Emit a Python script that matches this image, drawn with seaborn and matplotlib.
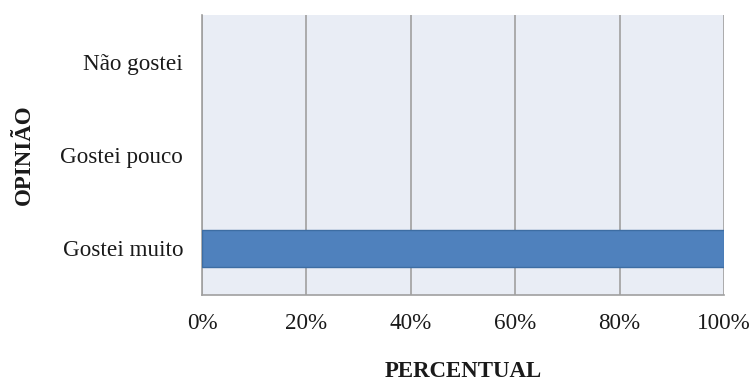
import matplotlib
matplotlib.use("Agg")
import matplotlib.pyplot as plt
import matplotlib.ticker as mticker
import seaborn as sns
import pandas as pd

# Survey answers, top to bottom, and their share of responses (%)
opinioes = ["Não gostei", "Gostei pouco", "Gostei muito"]
percentuais = [0, 0, 100]
xticks = [0, 20, 40, 60, 80, 100]

df = pd.DataFrame({"opiniao": opinioes, "percentual": percentuais})

sns.set_theme(style="white")
plt.rcParams["font.family"] = ["Liberation Serif", "DejaVu Serif"]

fig = plt.figure(figsize=(7.55, 3.83), dpi=100)
ax = fig.add_axes([0.2675, 0.2298, 0.959 - 0.2675, 0.961 - 0.2298])
ax.set_facecolor("#E9EDF5")

sns.barplot(data=df, x="percentual", y="opiniao", order=opinioes,
            color="#4F81BD", saturation=1, width=0.4,
            edgecolor="#3D6DA3", linewidth=1.0, ax=ax, zorder=3)

# Empty bars would otherwise leave a thin outline on the axis
for patch in ax.patches:
    if patch.get_width() == 0:
        patch.set_visible(False)

ax.set_xlim(0, 100)
ax.set_ylim(2.5, -0.5)
ax.set_xticks(xticks)
ax.xaxis.set_major_formatter(mticker.FuncFormatter(lambda v, _: f"{v:.0f}%"))

# Vertical grid lines at each tick
ax.grid(axis="x", color="#A6A6A6", linewidth=1.3, zorder=1)
ax.grid(axis="y", visible=False)
ax.set_axisbelow(True)

# Tick marks between categories on the y axis
ax.set_yticks([-0.5, 0.5, 1.5, 2.5], minor=True)
ax.tick_params(axis="y", which="major", length=0, pad=13.5, labelsize=16.7, labelcolor="#1a1a1a")
ax.tick_params(axis="y", which="minor", length=7, width=1.2, color="#A0A0A0", direction="out")
ax.tick_params(axis="x", which="major", length=6, width=1.2, color="#A0A0A0",
               direction="out", pad=7, labelsize=16.7, labelcolor="#1a1a1a")

for side in ("top", "right"):
    ax.spines[side].set_visible(False)
for side in ("left", "bottom"):
    ax.spines[side].set_color("#A0A0A0")
    ax.spines[side].set_linewidth(1.2)

ax.set_xlabel("PERCENTUAL", fontsize=16.5, fontweight="bold", color="#1a1a1a", va="center")
ax.set_ylabel("OPINIÃO", fontsize=16.5, fontweight="bold", color="#1a1a1a", va="center")
ax.xaxis.set_label_coords(0.5, -0.272)
ax.yaxis.set_label_coords(-0.34, 0.50)

fig.savefig("out.png", dpi=100, facecolor="white")
